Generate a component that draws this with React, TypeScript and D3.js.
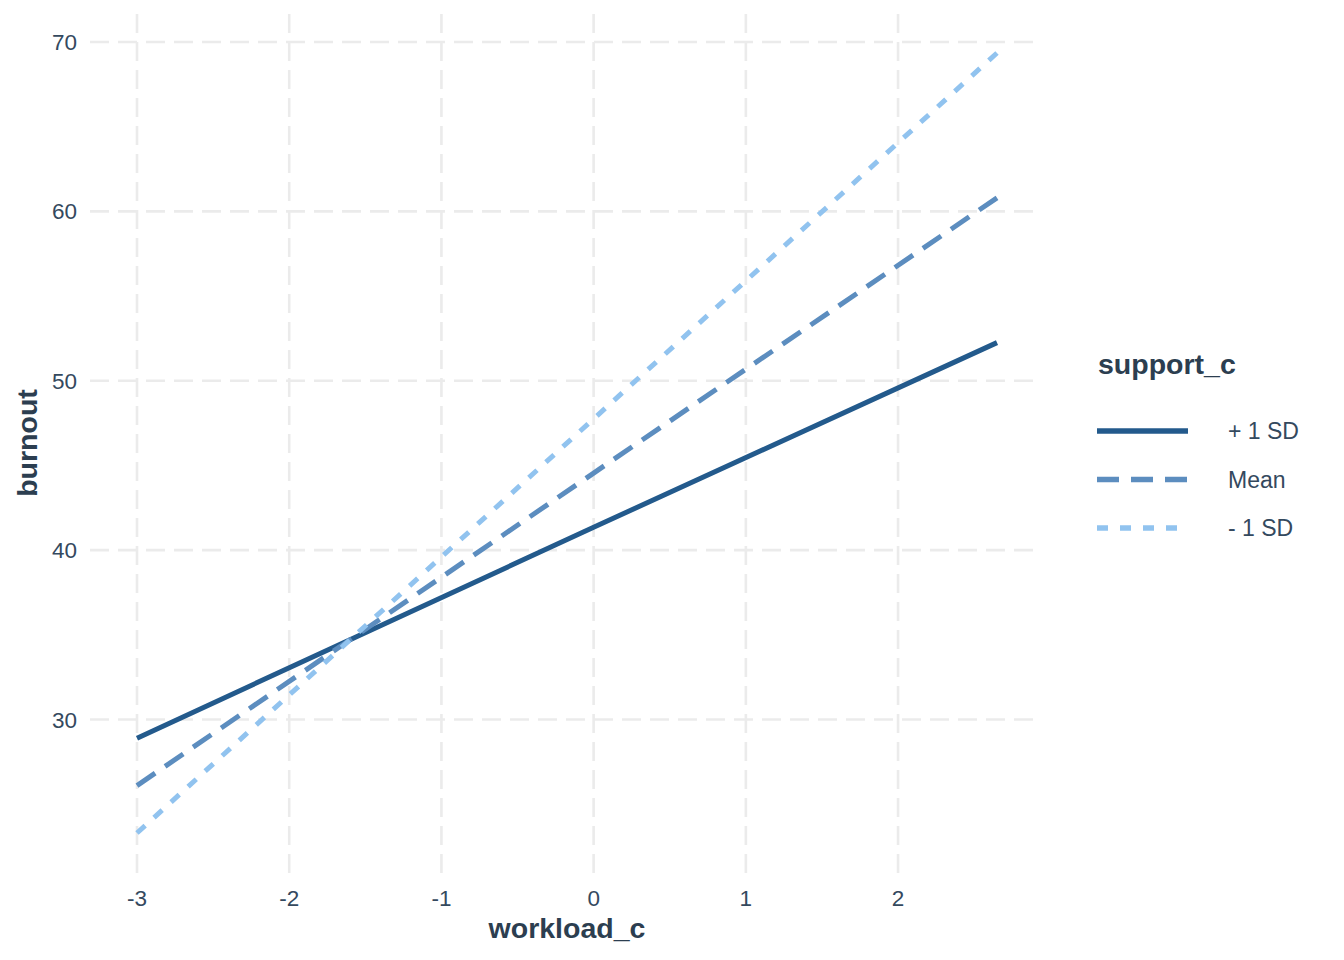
import { useRef, useEffect } from 'react';
import * as d3 from 'd3';

// workload_c values where each fitted line was read
const workload = [-3, 0, 2.65];

// predicted burnout per support_c level
const plusOneSD = [28.9, 41.35, 52.25];
const meanSupport = [26.1, 44.55, 60.8];
const minusOneSD = [23.3, 47.75, 69.35];

const seriesNames = ['+ 1 SD', 'Mean', '- 1 SD'];
const xTicks = [-3, -2, -1, 0, 1, 2];
const yTicks = [30, 40, 50, 60, 70];

interface Series {
    name: string;
    values: number[];
    color: string;
    dash: string | null;
}

export default function App() {
    const svgRef = useRef<SVGSVGElement>(null);

    useEffect(() => {
        if (!svgRef.current) return;

        const width = 1344;
        const height = 960;
        const panel = { left: 94, right: 1040, top: 14, bottom: 872 };
        const font = '"Liberation Sans", Arial, Helvetica, sans-serif';

        const series: Series[] = [
            { name: seriesNames[0], values: plusOneSD, color: '#235A8C', dash: null },
            { name: seriesNames[1], values: meanSupport, color: '#5C8DBF', dash: '22,12' },
            { name: seriesNames[2], values: minusOneSD, color: '#91C3EF', dash: '11,12' },
        ];

        const svg = d3.select(svgRef.current);
        svg.selectAll('*').remove();
        svg.attr('width', width).attr('height', height);

        svg.append('rect')
            .attr('width', width)
            .attr('height', height)
            .attr('fill', '#ffffff');

        // ggplot-like 5% expansion of the data range
        const expand = (ext: [number, number]): [number, number] => {
            const pad = (ext[1] - ext[0]) * 0.05;
            return [ext[0] - pad, ext[1] + pad];
        };

        const allY = series.flatMap(s => s.values);
        const x = d3.scaleLinear()
            .domain(expand(d3.extent(workload) as [number, number]))
            .range([panel.left, panel.right]);
        const y = d3.scaleLinear()
            .domain(expand(d3.extent(allY) as [number, number]))
            .range([panel.bottom, panel.top]);

        // Grid lines
        const grid = svg.append('g')
            .attr('stroke', '#EBEBEB')
            .attr('stroke-width', 2.6)
            .attr('stroke-dasharray', '19,9');

        grid.selectAll('.hgrid')
            .data(yTicks)
            .enter()
            .append('line')
            .attr('x1', panel.left - 4)
            .attr('x2', panel.right + 2)
            .attr('y1', d => y(d))
            .attr('y2', d => y(d));

        grid.selectAll('.vgrid')
            .data(xTicks)
            .enter()
            .append('line')
            .attr('x1', d => x(d))
            .attr('x2', d => x(d))
            .attr('y1', panel.top)
            .attr('y2', panel.bottom + 2);

        // Lines
        const line = d3.line<number>()
            .x((_, i) => x(workload[i]))
            .y(d => y(d));

        series.forEach(s => {
            svg.append('path')
                .datum(s.values)
                .attr('fill', 'none')
                .attr('stroke', s.color)
                .attr('stroke-width', 5)
                .attr('stroke-dasharray', s.dash)
                .attr('d', line);
        });

        // Tick labels (plain hyphen minus, as in the original)
        svg.selectAll('.xtick')
            .data(xTicks)
            .enter()
            .append('text')
            .attr('x', d => x(d))
            .attr('y', panel.bottom + 34)
            .attr('text-anchor', 'middle')
            .attr('fill', '#34495E')
            .style('font-family', font)
            .style('font-size', '22.5px')
            .text(d => String(d));

        svg.selectAll('.ytick')
            .data(yTicks)
            .enter()
            .append('text')
            .attr('x', 77)
            .attr('y', d => y(d))
            .attr('dy', '0.36em')
            .attr('text-anchor', 'end')
            .attr('fill', '#34495E')
            .style('font-family', font)
            .style('font-size', '22.5px')
            .text(d => d);

        // Axis titles
        svg.append('text')
            .attr('x', (panel.left + panel.right) / 2)
            .attr('y', 938)
            .attr('text-anchor', 'middle')
            .attr('fill', '#2C3E50')
            .style('font-family', font)
            .style('font-size', '28.5px')
            .style('font-weight', 'bold')
            .text('workload_c');

        svg.append('text')
            .attr('transform', `translate(37,${(panel.top + panel.bottom) / 2}) rotate(-90)`)
            .attr('text-anchor', 'middle')
            .attr('fill', '#2C3E50')
            .style('font-family', font)
            .style('font-size', '28.5px')
            .style('font-weight', 'bold')
            .text('burnout');

        // Legend
        const legend = svg.append('g')
            .attr('transform', 'translate(1097,0)');

        legend.append('text')
            .attr('x', 1)
            .attr('y', 374)
            .attr('fill', '#2C3E50')
            .style('font-family', font)
            .style('font-size', '28.5px')
            .style('font-weight', 'bold')
            .text('support_c');

        const keyY = d3.scalePoint<string>()
            .domain(seriesNames)
            .range([431, 528]);

        series.forEach(s => {
            const ky = keyY(s.name) as number;
            legend.append('line')
                .attr('x1', 0)
                .attr('x2', 91)
                .attr('y1', ky)
                .attr('y2', ky)
                .attr('stroke', s.color)
                .attr('stroke-width', 5.5)
                .attr('stroke-dasharray', s.dash);

            legend.append('text')
                .attr('x', 131)
                .attr('y', ky)
                .attr('dy', '0.36em')
                .attr('fill', '#34495E')
                .style('font-family', font)
                .style('font-size', '23px')
                .text(s.name);
        });
    }, []);

    return (
        <div style={{ position: 'absolute', left: 0, top: 0 }}>
            <svg ref={svgRef}></svg>
        </div>
    );
}
